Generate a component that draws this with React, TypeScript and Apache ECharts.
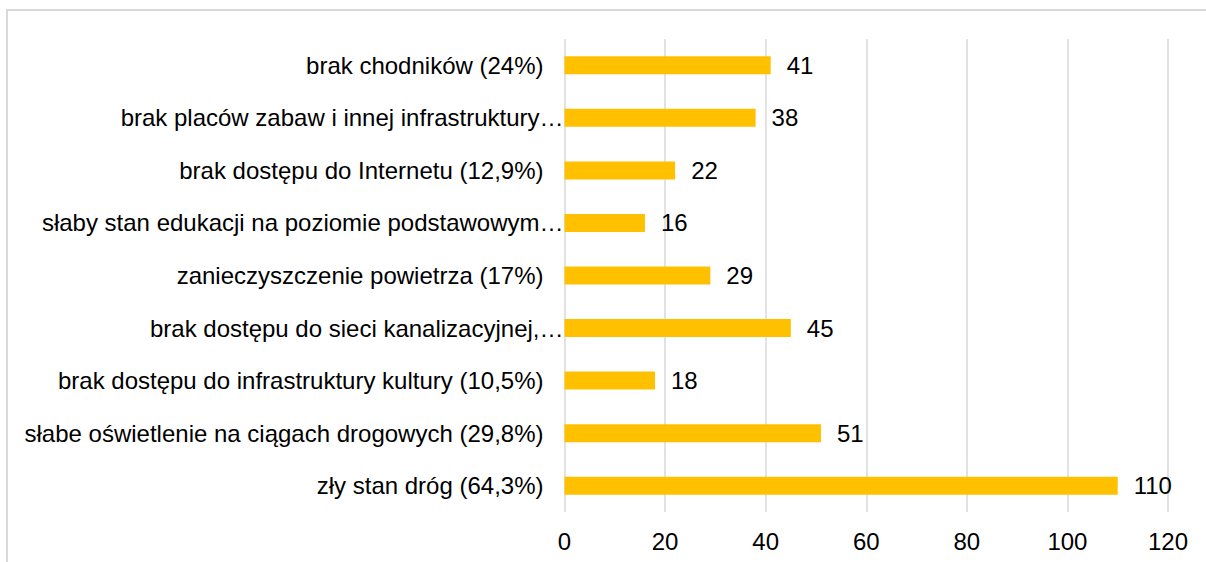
import React, { useEffect, useRef } from "react";
import * as echarts from "echarts";

const categories = [
  "brak chodników (24%)",
  "brak placów zabaw i innej infrastruktury…",
  "brak dostępu do Internetu (12,9%)",
  "słaby stan edukacji na poziomie podstawowym…",
  "zanieczyszczenie powietrza (17%)",
  "brak dostępu do sieci kanalizacyjnej,…",
  "brak dostępu do infrastruktury kultury (10,5%)",
  "słabe oświetlenie na ciągach drogowych (29,8%)",
  "zły stan dróg (64,3%)",
];
const values = [41, 38, 22, 16, 29, 45, 18, 51, 110];
const axisMin = 0;
const axisMax = 120;
const axisStep = 20;

const FONT = "'Liberation Sans', Arial, sans-serif";

export default function App() {
  const ref = useRef<HTMLDivElement>(null);
  useEffect(() => {
    if (!ref.current) return;
    const chart = echarts.init(ref.current, undefined, { renderer: "svg" });
    chart.setOption({
      animation: false,
      backgroundColor: "#ffffff",
      textStyle: { fontFamily: FONT },
      graphic: [
        {
          type: "rect",
          shape: { x: 7, y: 10, width: 1400, height: 800 },
          style: { fill: "none", stroke: "#d9d9d9", lineWidth: 2 },
          silent: true,
        },
      ],
      grid: { left: 564.5, right: 38, top: 39, bottom: 50, containLabel: false },
      xAxis: {
        type: "value",
        min: axisMin,
        max: axisMax,
        interval: axisStep,
        axisLine: { show: false },
        axisTick: { show: false },
        splitLine: { show: true, lineStyle: { color: "#d9d9d9", width: 1.5 } },
        axisLabel: {
          margin: 17,
          fontSize: 24,
          color: "#000000",
          fontFamily: FONT,
        },
      },
      yAxis: {
        type: "category",
        inverse: true,
        data: categories,
        axisLine: { show: false },
        axisTick: { show: false },
        axisLabel: {
          margin: 1,
          fontSize: 24,
          color: "#000000",
          fontFamily: FONT,
          formatter: (v: string) =>
            v.endsWith("…") ? `{t|${v}}` : `{n|${v}}`,
          rich: {
            n: { fontSize: 24, color: "#000000", fontFamily: FONT, padding: [0, 20, 0, 0] },
            t: { fontSize: 24, color: "#000000", fontFamily: FONT, padding: [0, 0, 0, 0] },
          },
        },
      },
      series: [
        {
          type: "bar",
          data: values,
          barWidth: 18,
          itemStyle: { color: "#FFC000" },
          label: {
            show: true,
            position: "right",
            distance: 16,
            fontSize: 24,
            color: "#000000",
            fontFamily: FONT,
          },
        },
      ],
    });
    return () => chart.dispose();
  }, []);
  return (
    <div
      ref={ref}
      style={{ position: "fixed", left: 0, top: 0, width: 1206, height: 562 }}
    />
  );
}
